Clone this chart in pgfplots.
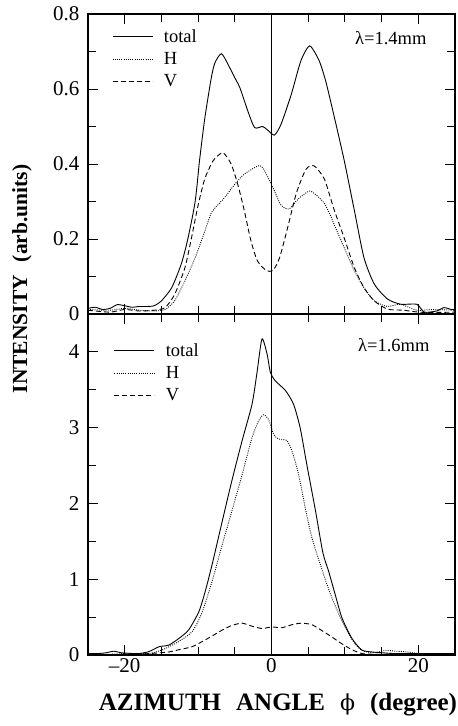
\documentclass[border=0pt]{standalone}
\usepackage{fontspec}
\setmainfont{Liberation Serif}
\newfontfamily\dvs{DejaVu Serif}
\usepackage{pgfplots}
\pgfplotsset{compat=1.18}

\begin{document}
\begin{tikzpicture}[x=1pt,y=1pt]
\useasboundingbox (-88,-71) rectangle (370,655);
\pgfplotsset{
  every axis/.append style={
    scale only axis, width=367pt, xmin=-25, xmax=25,
    tick align=inside, major tick length=10pt, minor tick length=8pt,
    xtick={-20,0,20}, minor xtick={-15,-10,-5,5,10,15},
    every tick/.style={black, line width=0.8pt},
    axis line style={line width=1.1pt},
    tick label style={font=\fontsize{21}{23}\selectfont},
    yticklabel style={xshift=-5pt},
    legend style={draw=none, fill=none, inner sep=0pt,
      font=\fontsize{18.5}{20}\selectfont, anchor=north west,
      legend cell align=left, row sep=4.5pt,
      /tikz/every odd column/.append style={column sep=9pt}},
    legend image code/.code={\draw[#1] (0pt,0pt) -- (40pt,0pt);},
  },
  tot/.style={black, line width=0.9pt, smooth, tension=0.4},
  hh/.style={black, line width=0.9pt, dash pattern=on 0.9pt off 1.3pt, smooth, tension=0.4},
  vv/.style={black, line width=0.9pt, dash pattern=on 5pt off 3pt, smooth, tension=0.4},
}

% ---------- bottom panel (lambda = 1.6 mm) ----------
\begin{axis}[
  at={(0pt,0pt)}, anchor=south west, height=341pt,
  ymin=0, ymax=4.5,
  ytick={0,1,2,3,4}, yticklabels={0,1,2,3,4},
  minor ytick={0.5,1.5,2.5,3.5},
  xticklabels={\textendash20,0,20},
  legend style={at={(0.07,0.92)}},
]
\addplot[tot] coordinates {
(-25,0.02) (-23.5,0.02) (-22.5,0.03) (-21.5,0.05) (-20.5,0.03) (-19,0.02) (-18,0.02)
(-16.7,0.045) (-15.3,0.11) (-14.0,0.13) (-12.6,0.22) (-11.3,0.33) (-9.9,0.57)
(-9.0,0.85) (-8.1,1.19) (-6.7,1.77) (-5.4,2.30) (-4.0,2.83) (-2.65,3.31)
(-2.0,3.71) (-1.3,4.17) (-0.6,3.97) (-0.15,3.73) (0.5,3.62) (1.9,3.49)
(3.0,3.31) (3.9,3.0) (4.8,2.52) (6.0,1.90) (7.0,1.35) (7.8,1.10) (8.7,0.79)
(9.6,0.49) (10.95,0.22) (12.3,0.066) (13.7,0.04) (15,0.03) (16.5,0.02) (18,0.02)
(20,0.02) (22,0.02) (25,0.02)};
\addlegendentry{total}
\addplot[hh] coordinates {
(-25,0.01) (-22,0.01) (-20,0.02) (-18,0.02) (-16.7,0.02) (-14.9,0.066) (-12.6,0.18)
(-10.8,0.31) (-9.5,0.55) (-8.1,0.97) (-6.7,1.46) (-5.4,1.90) (-4.0,2.38)
(-2.65,2.87) (-1.75,3.09) (-1.1,3.17) (-0.4,3.11) (0.3,2.91) (1.0,2.85)
(2.1,2.83) (2.8,2.69) (3.7,2.38) (4.6,1.94) (5.5,1.55) (6.9,1.12) (8.2,0.76)
(9.6,0.45) (11,0.2) (12.3,0.06) (14,0.03) (15.5,0.06) (17,0.05) (18.5,0.04)
(20,0.02) (22,0.01) (25,0.01)};
\addlegendentry{H}
\addplot[vv] coordinates {
(-25,0.005) (-20,0.005) (-16.5,0.02) (-14,0.04) (-12.6,0.07) (-10.8,0.11)
(-9.2,0.19) (-8.1,0.25) (-6.7,0.33) (-5.4,0.39) (-4.0,0.42) (-2.65,0.38)
(-1.3,0.35) (0.07,0.37) (1.4,0.36) (2.8,0.40) (4.1,0.42) (5.5,0.40) (6.9,0.32)
(8.2,0.24) (9.4,0.16) (10.95,0.07) (12.3,0.02) (14,0.01) (25,0.005)};
\addlegendentry{V}
\addplot[black, line width=0.8pt, forget plot] coordinates {(0,0) (0,4.5)};
\node[anchor=east, font=\fontsize{18.5}{20}\selectfont] at (rel axis cs:0.94,0.91) {λ=1.6mm};
\end{axis}

% ---------- top panel (lambda = 1.4 mm) ----------
\begin{axis}[
  at={(0pt,341pt)}, anchor=south west, height=300pt,
  ymin=0, ymax=0.8,
  ytick={0,0.2,0.4,0.6,0.8}, yticklabels={0,0.2,0.4,0.6,0.8},
  minor ytick={0.1,0.3,0.5,0.7},
  xticklabels={},
  legend style={at={(0.065,0.955)}},
]
\addplot[tot] coordinates {
(-25,0.015) (-24,0.018) (-23,0.012) (-22,0.015) (-21,0.025) (-20,0.022)
(-19,0.018) (-18,0.02) (-17,0.02) (-16,0.022) (-15,0.035) (-13.6,0.07)
(-12.3,0.133) (-11.4,0.20) (-10.4,0.30) (-9.8,0.41) (-9.1,0.52) (-8.2,0.63)
(-7.7,0.67) (-6.8,0.694) (-5.7,0.657) (-5.0,0.63) (-4.3,0.603) (-3.2,0.54)
(-2.3,0.497) (-1.2,0.50) (-0.5,0.49) (0.4,0.477) (1.3,0.506) (2.7,0.586)
(4.0,0.675) (5.2,0.715) (6.5,0.675) (7.4,0.62) (8.5,0.53) (9.9,0.41)
(11.3,0.275) (12.6,0.15) (14.0,0.08) (15.8,0.04) (17.6,0.026) (19.8,0.026)
(20.8,0.005) (22.5,0.008) (23.5,0.017) (24.5,0.012) (25,0.012)};
\addlegendentry{total}
\addplot[hh] coordinates {
(-25,0.012) (-22,0.01) (-20,0.015) (-18,0.01) (-16,0.008) (-14.5,0.012)
(-13.2,0.035) (-11.8,0.088) (-10.4,0.15) (-9.1,0.22) (-8.2,0.27) (-7.7,0.283)
(-6.4,0.31) (-5.0,0.346) (-3.7,0.373) (-1.6,0.396) (-0.7,0.373) (0.4,0.328)
(1.3,0.29) (2.4,0.28) (3.6,0.306) (5.2,0.328) (6.5,0.31) (7.2,0.295) (8.1,0.26)
(8.5,0.24) (9.9,0.177) (11.3,0.115) (12.6,0.07) (14,0.035) (15.8,0.02)
(17.6,0.026) (19.8,0.01) (22,0.012) (25,0.01)};
\addlegendentry{H}
\addplot[vv] coordinates {
(-25,0.01) (-22,0.005) (-20,0.012) (-18,0.008) (-16,0.01) (-14.5,0.017)
(-13.2,0.052) (-11.8,0.123) (-10.9,0.203) (-10.0,0.29) (-9.1,0.36) (-8.2,0.40)
(-7.7,0.415) (-6.6,0.43) (-5.5,0.40) (-4.6,0.346) (-3.7,0.275) (-2.8,0.195)
(-1.9,0.141) (-0.7,0.116) (0.2,0.116) (1.1,0.15) (2.2,0.23) (3.4,0.323)
(4.7,0.386) (5.8,0.395) (7.2,0.36) (8.5,0.28) (9.9,0.203) (11.3,0.123)
(12.6,0.07) (14,0.035) (15.8,0.013) (18,0.01) (20,0.005) (22,0.004) (25,0.005)};
\addlegendentry{V}
\addplot[black, line width=0.8pt, forget plot] coordinates {(0,0) (0,0.8)};
\node[anchor=east, font=\fontsize{18.5}{20}\selectfont] at (rel axis cs:0.932,0.92) {λ=1.4mm};
\end{axis}

\node[rotate=90, font=\bfseries\fontsize{21.5}{24}\selectfont] at (-66,376) {INTENSITY\hspace{0.6em}(arb.units)};
\node[font=\bfseries\fontsize{25}{27}\selectfont] at (190,-50) {AZIMUTH\hspace{0.6em}ANGLE\hspace{0.6em}{\mdseries\dvs\fontsize{22}{24}\selectfont ϕ}\hspace{0.6em}(degree)};
\end{tikzpicture}
\end{document}
